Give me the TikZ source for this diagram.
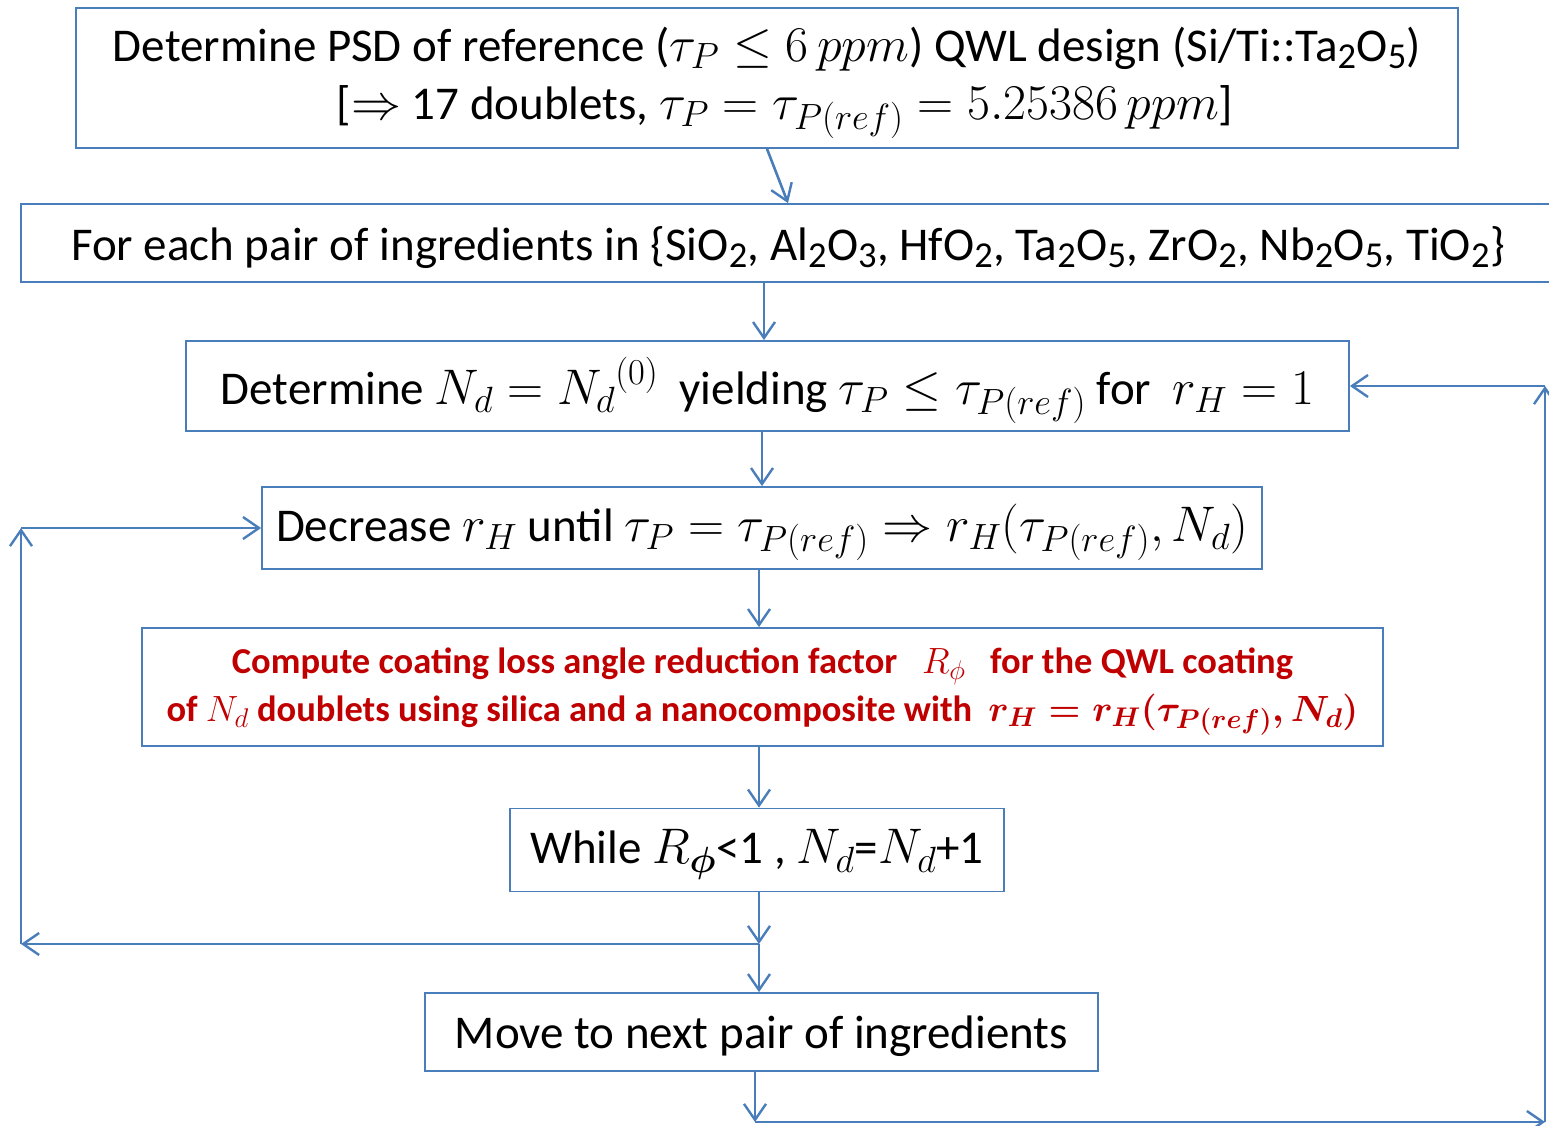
\documentclass[tikz,border=0pt]{standalone}
\usepackage{fix-cm}
\usepackage{amsmath}
\usepackage{fontspec}
\setmainfont{Carlito}
\DeclareMathSizes{47}{50}{36.5}{28}
\DeclareMathSizes{36.5}{36.5}{27}{20}
\usetikzlibrary{arrows.meta}
\definecolor{lineblue}{RGB}{74,126,187}
\definecolor{darkred}{RGB}{192,0,0}
\tikzset{
  box/.style={draw=lineblue, line width=1.8pt, rectangle, inner sep=0pt},
  txt/.style={inner sep=0pt, align=center, yshift=-4.5pt, font=\fontsize{47}{58}\selectfont},
  redtxt/.style={txt, text=darkred, font=\fontsize{36.5}{48}\selectfont\bfseries},
  arr/.style={draw=lineblue, line width=2.6pt, -{Straight Barb[length=16pt,width=22pt,line width=2.4pt]}}
}
\begin{document}
\begin{tikzpicture}[x=1pt,y=-1pt]
\useasboundingbox (0,0) rectangle (1549,1126);
\clip (0,0) rectangle (1549,1126);
\node[box, minimum width=1382pt, minimum height=140pt] (b1) at (767,78) {};
\node[txt] (t1) at (b1.center)
  {Determine PSD of reference ($\tau_P \le 6\,ppm$) QWL design (Si/Ti::Ta\textsubscript{2}O\textsubscript{5})\\
   \hspace*{36pt}{[}$\Rightarrow$ 17 doublets, $\tau_P = \tau_{P(ref)} = 5.25386\,ppm$]};
\node[box, minimum width=1534pt, minimum height=78pt] (b2) at (788,243) {};
\node[txt] (t2) at (b2.center)
  {For each pair of ingredients in \{SiO\textsubscript{2}, Al\textsubscript{2}O\textsubscript{3}, HfO\textsubscript{2}, Ta\textsubscript{2}O\textsubscript{5}, ZrO\textsubscript{2}, Nb\textsubscript{2}O\textsubscript{5}, TiO\textsubscript{2}\}};
\node[box, minimum width=1163pt, minimum height=90pt] (b3) at (767.5,386) {};
\node[txt] (t3) at (b3.center)
  {Determine $N_d = {N_d}^{(0)}$\ \ yielding $\tau_P \le \tau_{P(ref)}$ for\ \ $r_H = 1$};
\node[box, minimum width=1000pt, minimum height=82pt] (b4) at (762,528) {};
\node[txt] (t4) at (b4.center)
  {Decrease $r_H$ until $\tau_P = \tau_{P(ref)} \Rightarrow r_H(\tau_{P(ref)}, N_d)$};
\node[box, minimum width=1241pt, minimum height=118pt] (b5) at (762.5,687) {};
\node[redtxt] (t5) at (b5.center)
  {Compute coating loss angle reduction factor\ \ \ $R_\phi$\ \ \ for the QWL coating\\
   of $N_d$ doublets using silica and a nanocomposite with\ \ {\boldmath$r_H = r_H(\tau_{P(ref)}, N_d)$}};
\node[box, minimum width=494pt, minimum height=83pt] (b6) at (757,850) {};
\node[txt] (t6) at (b6.center)
  {While $R_{\boldsymbol{\phi}}$<1 , $N_d$=$N_d$+1};
\node[box, minimum width=673pt, minimum height=78pt] (b7) at (761.5,1032) {};
\node[txt] (t7) at (b7.center)
  {Move to next pair of ingredients};
\coordinate (j1) at (759,944);
\coordinate (l1) at (21,944);
\coordinate (l2) at (21,528);
\coordinate (r1) at (755,1122);
\coordinate (r2) at (1545,1122);
\coordinate (r3) at (1545,386);
\draw[arr] (b1.south) -- (b2.north);
\draw[arr] (b2.south -| 764,0) -- (b3.north -| 764,0);
\draw[arr] (b3.south -| b4.north) -- (b4.north);
\draw[arr] (b4.south -| 759,0) -- (b5.north -| 759,0);
\draw[arr] (b5.south -| j1) -- (b6.north -| j1);
\draw[arr] (b6.south -| j1) -- (j1);
\draw[arr] (j1) -- (b7.north -| j1);
\draw[arr] (j1) -- (l1);
\draw[arr] (l1) -- (l2);
\draw[arr] (l2) -- (b4.west);
\draw[arr] (b7.south -| r1) -- (r1);
\draw[arr] (r1) -- (r2);
\draw[arr] (r2) -- (r3);
\draw[arr] (r3) -- (b3.east);
\end{tikzpicture}
\end{document}
